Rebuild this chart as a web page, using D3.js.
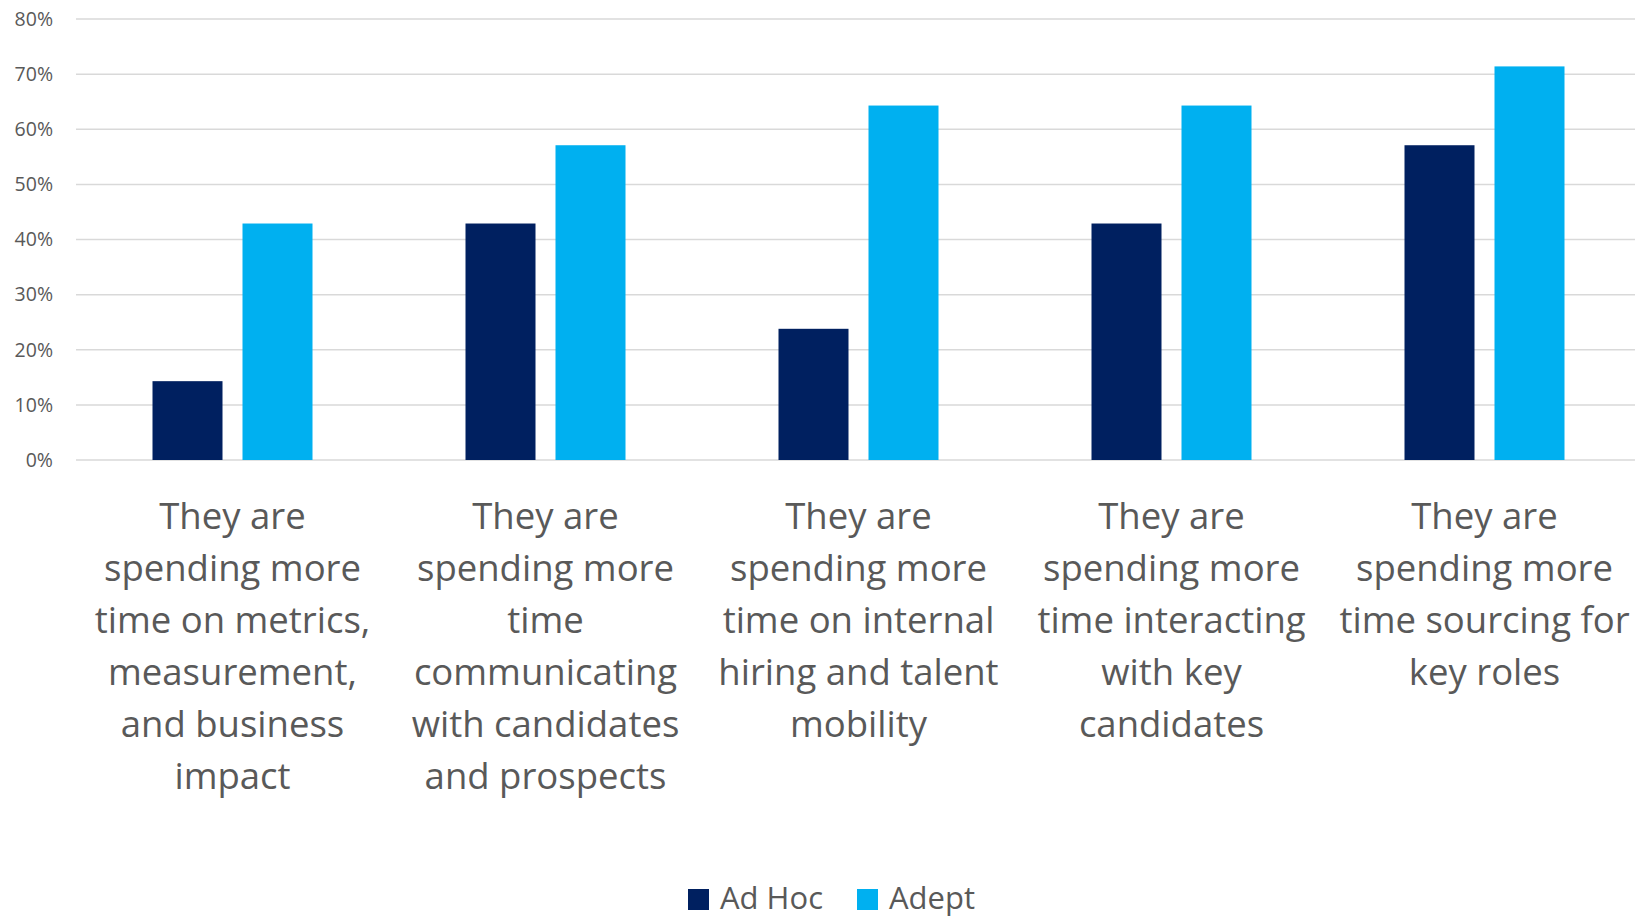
<!DOCTYPE html>
<html>
<head>
<meta charset="utf-8">
<script src="https://cdn.jsdelivr.net/npm/d3@7"></script>
<style>
  html, body { margin: 0; padding: 0; background: #fff; }
  svg { display: block; font-family: "Open Sans", sans-serif; }
</style>
</head>
<body>
<svg id="chart" width="1635" height="918"></svg>
<script>
// Survey categories (line breaks as laid out under each group)
const categories = [
  "They are\nspending more\ntime on metrics,\nmeasurement,\nand business\nimpact",
  "They are\nspending more\ntime\ncommunicating\nwith candidates\nand prospects",
  "They are\nspending more\ntime on internal\nhiring and talent\nmobility",
  "They are\nspending more\ntime interacting\nwith key\ncandidates",
  "They are\nspending more\ntime sourcing for\nkey roles"
];
const seriesNames = ["Ad Hoc", "Adept"];
const adHocValues = [0.143, 0.429, 0.238, 0.429, 0.571];
const adeptValues = [0.429, 0.571, 0.643, 0.643, 0.714];
const yTicks = [0, 0.1, 0.2, 0.3, 0.4, 0.5, 0.6, 0.7, 0.8];
const colors = ["#002060", "#00B0F0"];

const svg = d3.select("#chart");
const plot = { left: 76, right: 1641, top: 19, bottom: 460 };

const x = d3.scaleBand().domain(d3.range(categories.length)).range([plot.left, plot.right]);
const y = d3.scaleLinear().domain([0, 0.8]).range([plot.bottom, plot.top]);
const barW = 70, barGap = 20;

// Gridlines
svg.append("g").selectAll("line").data(yTicks).join("line")
  .attr("x1", plot.left).attr("x2", 1635)
  .attr("y1", d => y(d)).attr("y2", d => y(d))
  .attr("stroke", "#d9d9d9").attr("stroke-width", 1.5);

// Y axis labels
const yAxis = d3.axisLeft(y).tickValues(yTicks).tickFormat(d3.format(".0%")).tickSize(0).tickPadding(0);
const gy = svg.append("g").attr("transform", "translate(53,0)").call(yAxis);
gy.select(".domain").remove();
gy.selectAll("text").attr("font-size", 19.5).attr("fill", "#595959")
  .attr("font-family", "'Open Sans', sans-serif");

// Bars
const series = [adHocValues, adeptValues];
series.forEach((vals, si) => {
  svg.append("g").selectAll("rect").data(vals).join("rect")
    .attr("x", (d, i) => {
      const c = x(i) + x.bandwidth() / 2;
      return si === 0 ? c - barGap / 2 - barW : c + barGap / 2;
    })
    .attr("y", d => y(d))
    .attr("width", barW)
    .attr("height", d => y(0) - y(d))
    .attr("fill", colors[si]);
});

// Category labels
const labels = svg.append("g");
categories.forEach((cat, i) => {
  const cx = x(i) + x.bandwidth() / 2;
  const t = labels.append("text")
    .attr("x", cx)
    .attr("y", 529)
    .attr("text-anchor", "middle")
    .attr("font-size", 36.5)
    .attr("fill", "#595959");
  cat.split("\n").forEach((line, li) => {
    t.append("tspan").attr("x", cx).attr("y", 529 + li * 52).text(line);
  });
});

// Legend
const legend = svg.append("g");
const legendX = [688, 857];
seriesNames.forEach((name, i) => {
  legend.append("rect").attr("x", legendX[i]).attr("y", 889)
    .attr("width", 21).attr("height", 21).attr("fill", colors[i]);
  legend.append("text").attr("x", legendX[i] + 32).attr("y", 909)
    .attr("font-size", 31).attr("fill", "#595959").text(name);
});
</script>
</body>
</html>
